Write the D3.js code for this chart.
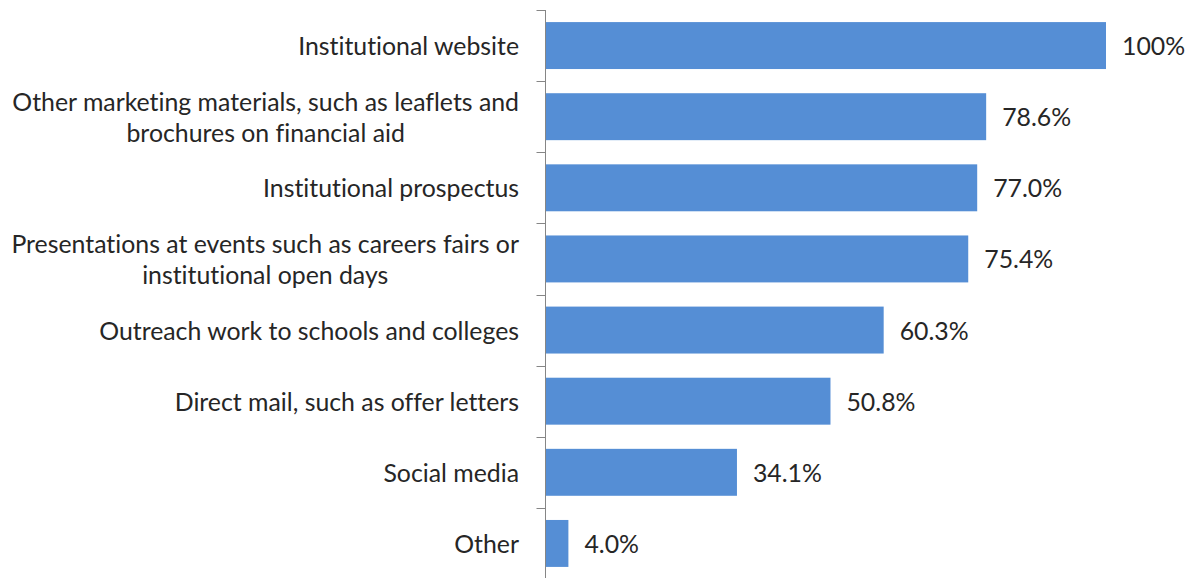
<!DOCTYPE html>
<html>
<head>
<meta charset="utf-8">
<script src="https://cdn.jsdelivr.net/npm/d3@7"></script>
<style>
  html, body { margin: 0; padding: 0; background: #fff; }
  svg { display: block; }
  text { font-variant-ligatures: none; font-feature-settings: "liga" 0, "clig" 0; }
</style>
</head>
<body>
<svg id="chart" width="1192" height="578"></svg>
<script>
// Channels used to communicate financial support information (% of institutions)
const categories = [
  ["Institutional website"],
  ["Other marketing materials, such as leaflets and", "brochures on financial aid"],
  ["Institutional prospectus"],
  ["Presentations at events such as careers fairs or", "institutional open days"],
  ["Outreach work to schools and colleges"],
  ["Direct mail, such as offer letters"],
  ["Social media"],
  ["Other"]
];
const values = [100, 78.6, 77.0, 75.4, 60.3, 50.8, 34.1, 4.0];
const valueLabels = ["100%", "78.6%", "77.0%", "75.4%", "60.3%", "50.8%", "34.1%", "4.0%"];

const axisX = 545.5;
const plotTop = 10, plotBottom = 579;
const fontFamily = "Lato, 'Open Sans', sans-serif";
const textColor = "#262626";
const barColor = "#558ED5";

const svg = d3.select("#chart");

// Fit the font size so the labels keep the proportions of the original typeface
const probe = svg.append("text").attr("font-family", fontFamily).attr("font-size", 24).text("Institutional website");
const probeW = probe.node().getComputedTextLength();
probe.remove();
const fontSize = 24 * 221 / probeW;

const y = d3.scaleBand()
  .domain(d3.range(categories.length))
  .range([plotTop, plotBottom])
  .paddingInner(0.34)
  .paddingOuter(0.17);

const x = d3.scaleLinear().domain([0, 100]).range([axisX + 0.5, 1106]);

// Bars
svg.append("g").selectAll("rect")
  .data(values)
  .join("rect")
  .attr("x", x(0))
  .attr("y", (d, i) => y(i))
  .attr("width", d => x(d) - x(0))
  .attr("height", y.bandwidth())
  .attr("fill", barColor);

// Category axis: vertical line with ticks at band boundaries
const axisG = svg.append("g").attr("stroke", "#868686").attr("stroke-width", 1);
axisG.append("line")
  .attr("x1", axisX).attr("x2", axisX)
  .attr("y1", plotTop).attr("y2", plotBottom);
const step = y.step();
const boundaries = d3.range(categories.length + 1).map(i => y(0) - y.paddingOuter() * step + i * step);
axisG.selectAll("line.tick")
  .data(boundaries)
  .join("line")
  .attr("class", "tick")
  .attr("x1", axisX - 9).attr("x2", axisX)
  .attr("y1", d => Math.round(d) + 0.5).attr("y2", d => Math.round(d) + 0.5);

// Category labels: block right-aligned to the axis, lines centred within the block
const labelRight = 519;
const lineH = fontSize * 1.25;
const labels = svg.append("g")
  .attr("font-family", fontFamily)
  .attr("font-size", fontSize)
  .attr("fill", textColor);

categories.forEach((lines, i) => {
  const cy = y(i) + y.bandwidth() / 2;
  const t = labels.append("text").attr("text-anchor", "middle");
  const spans = lines.map((ln, k) => t.append("tspan")
    .attr("y", cy + (k - (lines.length - 1) / 2) * lineH)
    .attr("dy", "0.38em")
    .text(ln));
  const maxW = d3.max(spans, s => s.node().getComputedTextLength());
  spans.forEach(s => s.attr("x", labelRight - maxW / 2));
});

// Value labels
svg.append("g")
  .attr("font-family", fontFamily)
  .attr("font-size", fontSize)
  .attr("fill", textColor)
  .selectAll("text")
  .data(values)
  .join("text")
  .attr("x", d => x(d) + 16)
  .attr("y", (d, i) => y(i) + y.bandwidth() / 2)
  .attr("dy", "0.38em")
  .text((d, i) => valueLabels[i]);
</script>
</body>
</html>
